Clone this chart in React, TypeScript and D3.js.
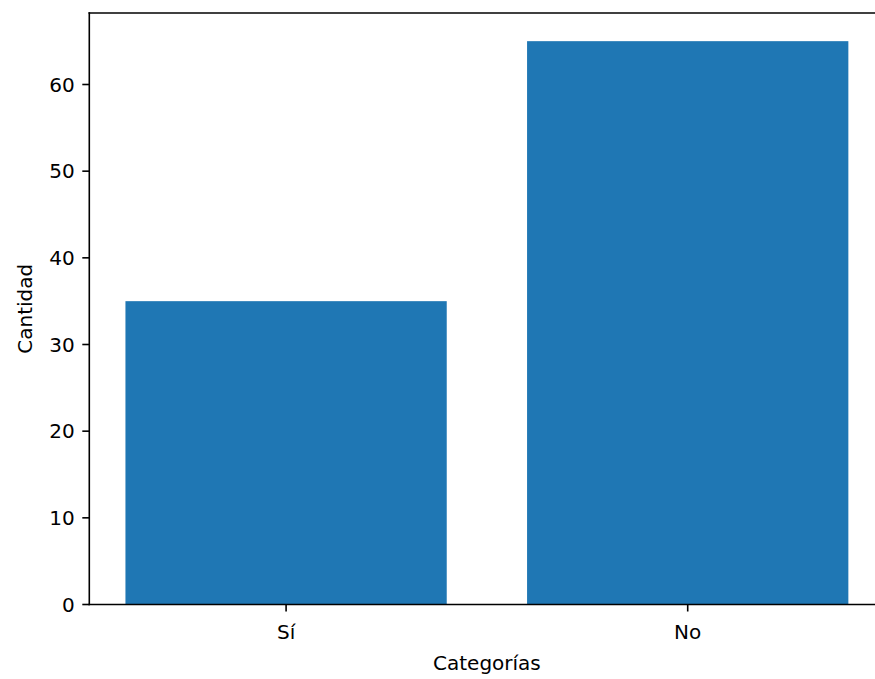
import React from "react";
import * as d3 from "d3";

const categories = ["Sí", "No"];
const values = [35, 65];
const yTicks = [0, 10, 20, 30, 40, 50, 60];

const W = 875;
const H = 679;
const left = 89.3;
const right = 884.5;
const top = 13;
const bottom = 604.5;
const FONT = "DejaVu Sans, sans-serif";
const FS = 20;

export default function App() {
  const x = d3.scaleLinear().domain([-0.49, 1.49]).range([left, right]);
  const y = d3.scaleLinear().domain([0, 68.25]).range([bottom, top]);
  const bw = x(0.4) - x(-0.4);
  return (
    <svg
      width={W}
      height={H}
      style={{ position: "absolute", left: 0, top: 0, background: "#fff" }}
      fontFamily={FONT}
    >
      {values.map((v, i) => (
        <rect
          key={categories[i]}
          x={x(i - 0.4)}
          y={y(v)}
          width={bw}
          height={y(0) - y(v)}
          fill="#1f77b4"
        />
      ))}
      {/* spines */}
      <line x1={left} x2={left} y1={top} y2={bottom} stroke="#000" strokeWidth={1.6} strokeLinecap="square" />
      <line x1={left} x2={right} y1={bottom} y2={bottom} stroke="#000" strokeWidth={1.6} strokeLinecap="square" />
      <line x1={left} x2={right} y1={top} y2={top} stroke="#000" strokeWidth={1.6} strokeLinecap="square" />
      <line x1={right} x2={right} y1={top} y2={bottom} stroke="#000" strokeWidth={1.6} />
      {yTicks.map((t) => (
        <g key={t}>
          <line x1={left - 7} x2={left} y1={y(t)} y2={y(t)} stroke="#000" strokeWidth={1.6} />
          <text x={left - 14.5} y={y(t)} dy="0.36em" textAnchor="end" fontSize={FS} fill="#000">
            {t}
          </text>
        </g>
      ))}
      {categories.map((c, i) => (
        <g key={c}>
          <line x1={x(i)} x2={x(i)} y1={bottom} y2={bottom + 7} stroke="#000" strokeWidth={1.6} />
          <text x={x(i)} y={bottom + 34} textAnchor="middle" fontSize={FS} fill="#000">
            {c}
          </text>
        </g>
      ))}
      <text x={(left + right) / 2} y={670} textAnchor="middle" fontSize={FS} fill="#000">
        Categorías
      </text>
      <text
        transform={`translate(32, ${(top + bottom) / 2}) rotate(-90)`}
        textAnchor="middle"
        fontSize={FS}
        fill="#000"
      >
        Cantidad
      </text>
    </svg>
  );
}
